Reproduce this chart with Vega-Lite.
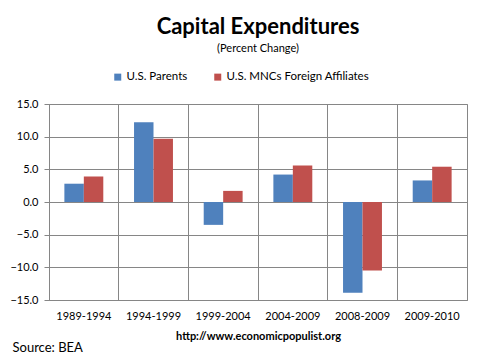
{
  "$schema": "https://vega.github.io/schema/vega-lite/v6.json",
  "width": 418,
  "height": 196,
  "autosize": {"type": "none"},
  "padding": {"left": 49, "top": 104, "right": 16, "bottom": 63},
  "background": "white",
  "title": {
    "text": "Capital Expenditures",
    "subtitle": "(Percent Change)",
    "font": "Lato",
    "fontSize": 22,
    "fontWeight": "bold",
    "color": "#000000",
    "subtitleFont": "Lato",
    "subtitleFontSize": 11,
    "subtitleColor": "#000000",
    "subtitlePadding": 4,
    "anchor": "middle",
    "frame": "group",
    "offset": 16
  },
  "data": {
    "values": [
      {"period": "1989-1994", "series": "U.S. Parents", "value": 2.8},
      {"period": "1989-1994", "series": "U.S. MNCs  Foreign Affiliates", "value": 3.9},
      {"period": "1994-1999", "series": "U.S. Parents", "value": 12.2},
      {"period": "1994-1999", "series": "U.S. MNCs  Foreign Affiliates", "value": 9.7},
      {"period": "1999-2004", "series": "U.S. Parents", "value": -3.5},
      {"period": "1999-2004", "series": "U.S. MNCs  Foreign Affiliates", "value": 1.7},
      {"period": "2004-2009", "series": "U.S. Parents", "value": 4.2},
      {"period": "2004-2009", "series": "U.S. MNCs  Foreign Affiliates", "value": 5.6},
      {"period": "2008-2009", "series": "U.S. Parents", "value": -13.9},
      {"period": "2008-2009", "series": "U.S. MNCs  Foreign Affiliates", "value": -10.5},
      {"period": "2009-2010", "series": "U.S. Parents", "value": 3.3},
      {"period": "2009-2010", "series": "U.S. MNCs  Foreign Affiliates", "value": 5.4}
    ]
  },
  "mark": {"type": "bar"},
  "encoding": {
    "x": {
      "field": "period",
      "type": "nominal",
      "sort": null,
      "scale": {"paddingInner": 0, "paddingOuter": 0},
      "axis": {
        "title": "http://www.economicpopulist.org",
        "titleFont": "Lato",
        "titleFontSize": 11,
        "titleFontWeight": "bold",
        "titleColor": "#000000",
        "titlePadding": 9,
        "labelAngle": 0,
        "labelFont": "Lato",
        "labelFontSize": 11,
        "labelColor": "#000000",
        "labelPadding": 10,
        "grid": true,
        "bandPosition": 0,
        "gridColor": "#868686",
        "gridOpacity": 1,
        "ticks": false,
        "domainColor": "#868686"
      }
    },
    "xOffset": {
      "field": "series",
      "type": "nominal",
      "sort": ["U.S. Parents", "U.S. MNCs  Foreign Affiliates"],
      "scale": {"paddingInner": 0, "paddingOuter": 0.79}
    },
    "y": {
      "field": "value",
      "type": "quantitative",
      "scale": {"domain": [-15, 15], "nice": false, "zero": false},
      "axis": {
        "values": [-15, -10, -5, 0, 5, 10, 15],
        "format": ".1f",
        "grid": true,
        "gridColor": "#868686",
        "gridOpacity": 1,
        "domainColor": "#868686",
        "tickColor": "#868686",
        "tickSize": 5,
        "labelFont": "Lato",
        "labelFontSize": 11,
        "labelColor": "#000000",
        "labelPadding": 6,
        "title": "Source: BEA",
        "titleAngle": 0,
        "titleFont": "Lato",
        "titleFontSize": 13,
        "titleFontWeight": "normal",
        "titleColor": "#000000",
        "titleAlign": "left",
        "titleBaseline": "middle",
        "titleX": -37,
        "titleY": 243
      }
    },
    "color": {
      "field": "series",
      "type": "nominal",
      "sort": ["U.S. Parents", "U.S. MNCs  Foreign Affiliates"],
      "scale": {"range": ["#4F81BD", "#C0504D"]},
      "legend": {
        "orient": "none",
        "legendX": 63,
        "legendY": -33,
        "direction": "horizontal",
        "title": null,
        "symbolType": "square",
        "symbolSize": 49,
        "symbolStrokeWidth": 0,
        "labelFont": "Lato",
        "labelFontSize": 11.5,
        "labelColor": "#000000",
        "labelOffset": 3,
        "columnPadding": 24
      }
    }
  },
  "config": {
    "view": {"stroke": "#868686", "strokeWidth": 1}
  }
}
